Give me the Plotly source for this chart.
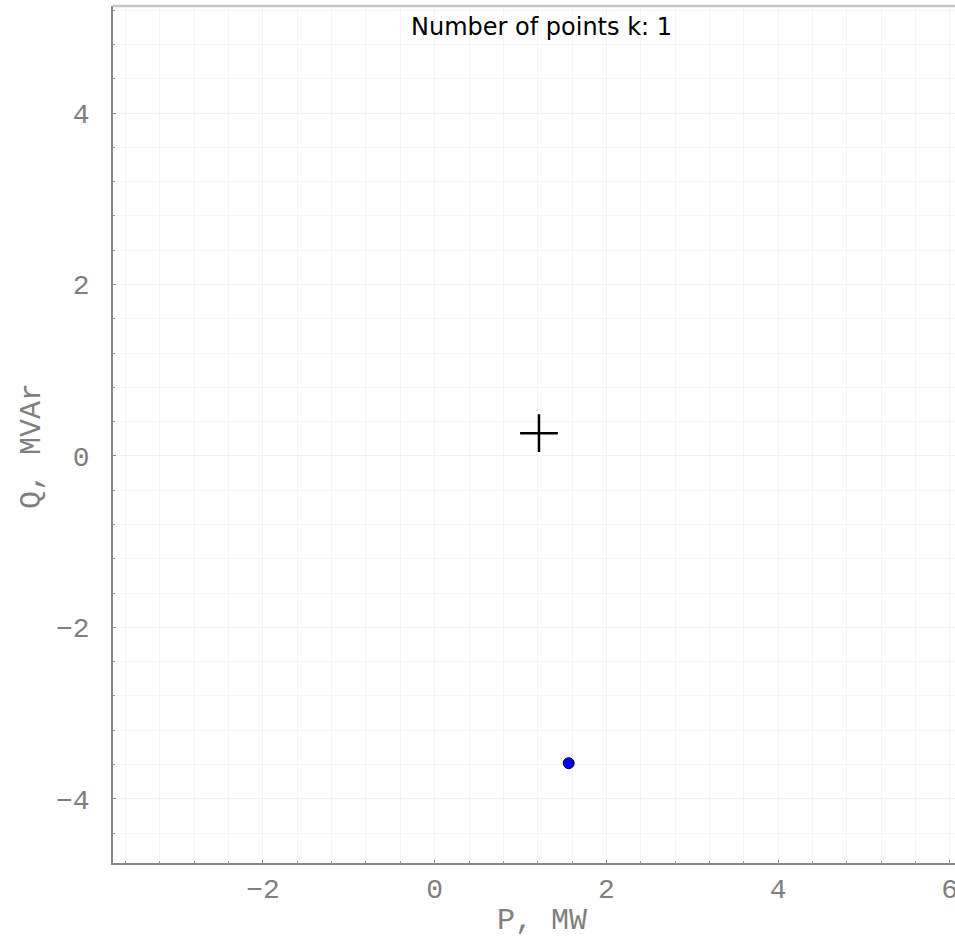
import plotly.graph_objects as go

# Data
center_p = [1.215]
center_q = [0.266]
point_p = [1.561]
point_q = [-3.585]
k_points = 1
x_title = "P, MW"
y_title = "Q, MVAr"

W, H = 955, 937
ML, MR, MT, MB = 113, 0, 6, 74

fig = go.Figure()
fig.add_trace(go.Scatter(
    x=center_p, y=center_q, mode="markers",
    marker=dict(symbol="cross-thin", size=27, line=dict(color="black", width=2.5)),
    showlegend=False, hoverinfo="skip"))
fig.add_trace(go.Scatter(
    x=point_p, y=point_q, mode="markers",
    marker=dict(symbol="circle", size=11, color="#0000ff", line=dict(color="black", width=1)),
    showlegend=False, hoverinfo="skip"))

mono = "Liberation Mono, Courier New, monospace"
axis_common = dict(
    showline=True, linecolor="#888888", linewidth=1.5,
    ticks="inside", ticklen=3, tickcolor="#888888", tickwidth=1,
    showgrid=True, gridcolor="#f2f2f2", gridwidth=1,
    zeroline=False, automargin=False,
    tickfont=dict(family=mono, size=28, color="#7f7f7f"),
    ticklabeloverflow="allow",
    dtick=2, tick0=0,
    minor=dict(dtick=0.4, tick0=0, showgrid=True, gridcolor="#f5f5f5",
               ticks="inside", ticklen=2, tickcolor="#999999"),
)

fig.update_xaxes(range=[-3.747, 6.061], **axis_common)
fig.update_yaxes(range=[-4.75, 5.25], ticklabelstandoff=16, **axis_common)

fig.update_layout(
    width=W, height=H,
    margin=dict(l=ML, r=MR, t=MT, b=MB),
    paper_bgcolor="white", plot_bgcolor="white",
    font=dict(family=mono),
    shapes=[dict(type="line", xref="paper", yref="paper", x0=0, x1=1, y0=1, y1=1,
                 line=dict(color="#c4c4c4", width=2.5))],
    annotations=[
        dict(text=f"Number of points k: {k_points}", xref="paper", yref="paper",
             x=(541.5 - ML) / (W - ML - MR), y=1 - (27 - MT) / (H - MT - MB),
             xanchor="center", yanchor="middle", showarrow=False,
             font=dict(family="DejaVu Sans", size=24, color="black")),
        dict(text=x_title, xref="paper", yref="paper",
             x=(541.7 - ML) / (W - ML - MR), y=-(921 - (H - MB)) / (H - MT - MB),
             xanchor="center", yanchor="middle", showarrow=False,
             font=dict(family=mono, size=30, color="#7f7f7f")),
        dict(text=y_title, xref="paper", yref="paper", textangle=-90,
             x=-(ML - 32) / (W - ML - MR), y=1 - (446 - MT) / (H - MT - MB),
             xanchor="center", yanchor="middle", showarrow=False,
             font=dict(family=mono, size=30, color="#7f7f7f")),
    ],
)

fig.write_html("out.html")
